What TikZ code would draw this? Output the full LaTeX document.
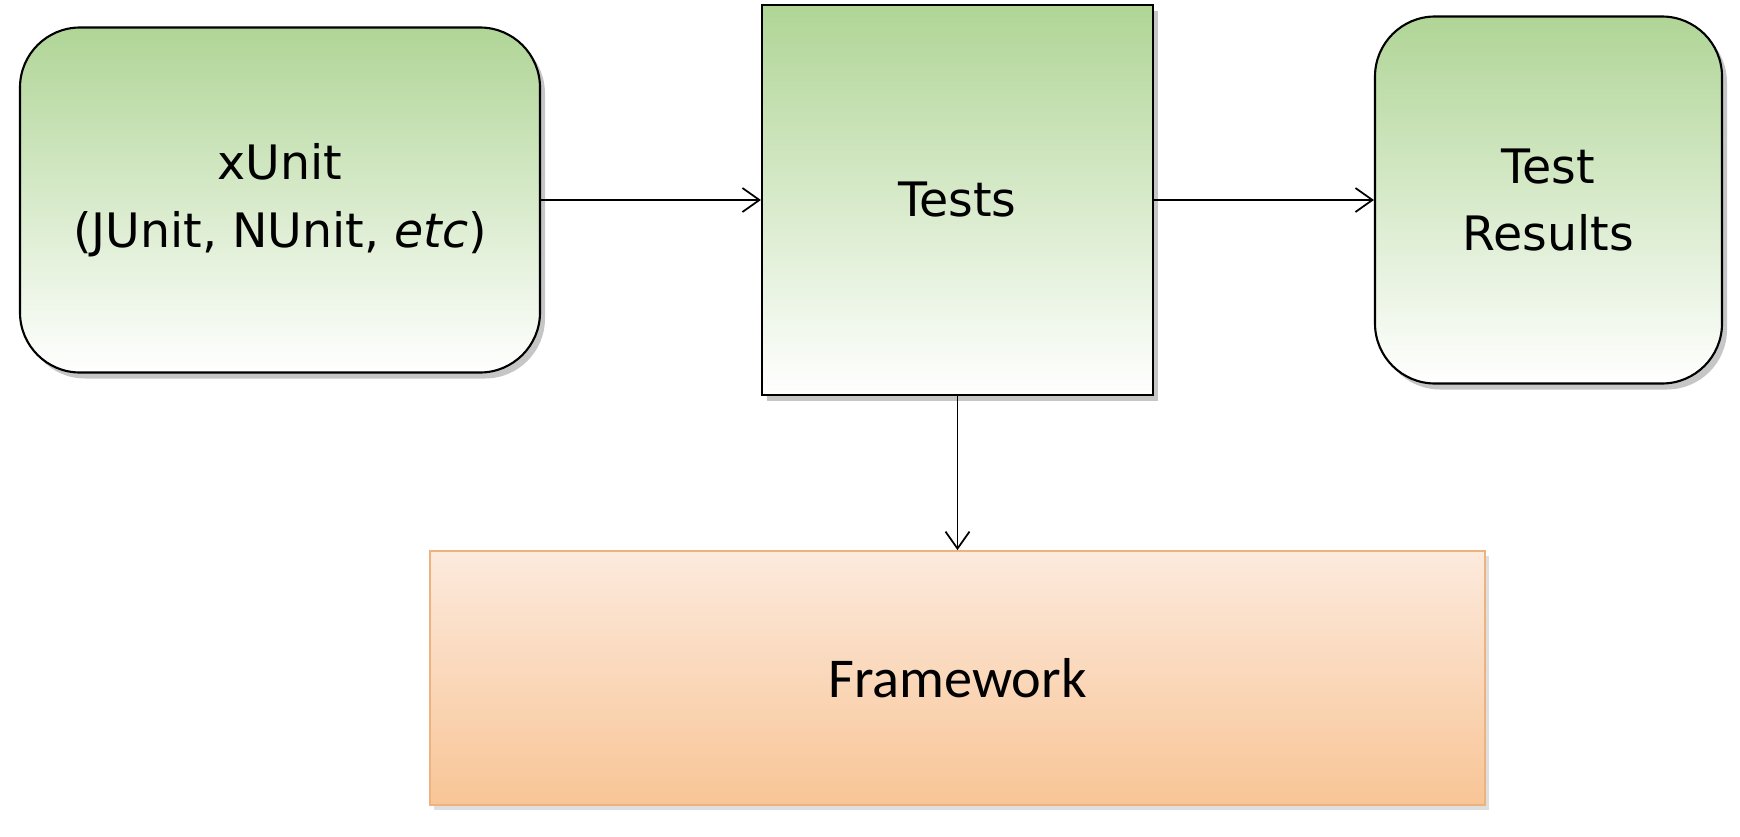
\documentclass[tikz,border=0pt]{standalone}
\usepackage{fontspec}
\setmainfont{Carlito}
\newfontfamily\handfont{DejaVu Sans}
\usetikzlibrary{positioning,arrows.meta,shadows}
\definecolor{boxgreen}{HTML}{B0D596}
\definecolor{fwtop}{HTML}{FCEADD}
\definecolor{fwbottom}{HTML}{F8C596}
\definecolor{fwline}{HTML}{EDB27E}

\begin{document}
\begin{tikzpicture}[>={Straight Barb[length=1.7mm,width=2.4mm]},node distance=2cm,on grid,
    greenbox/.style={draw,line width=0.6pt,top color=boxgreen,middle color=boxgreen!40!white,bottom color=white,
      align=center,font=\handfont\fontsize{13.5}{19.3}\selectfont,
      drop shadow={opacity=0.45,shadow xshift=0.5mm,shadow yshift=-0.6mm}},
    fwbox/.style={draw=fwline,line width=0.5pt,top color=fwtop,bottom color=fwbottom,
      font=\fontsize{16}{19}\selectfont,
      drop shadow={opacity=0.25,shadow xshift=0.4mm,shadow yshift=-0.5mm}}]
   \useasboundingbox (0,0) rectangle (17.4,8.36);
   \node[greenbox,rounded corners=6mm,minimum width=5.2cm,minimum height=3.45cm] (xunit) at (2.8,6.36)
      {xUnit\\(JUnit, NUnit, \textit{etc})};
   \node[greenbox,minimum width=3.91cm,minimum height=3.9cm] (tests) [right=6.775 of xunit] {Tests};
   \node[greenbox,rounded corners=6mm,minimum width=3.47cm,minimum height=3.67cm] (results) [right=5.91 of tests]
      {Test\\Results};
   \node[fwbox,minimum width=10.55cm,minimum height=2.54cm] (framework) [below=4.78 of tests] {Framework};
    \path[->,line width=0.5pt]
    (xunit) edge (tests)
    (tests) edge (results)
    (tests) edge (framework);
\end{tikzpicture}
\end{document}
